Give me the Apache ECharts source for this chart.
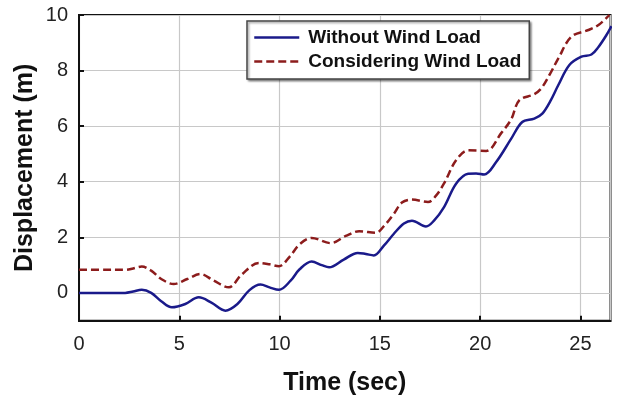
<!DOCTYPE html>
<html>
<head>
<meta charset="utf-8">
<script src="https://cdn.jsdelivr.net/npm/echarts@6/dist/echarts.min.js"></script>
<style>html,body{margin:0;padding:0;background:#fff;}#c{width:617px;height:396px;}</style>
</head>
<body>
<div id="c"></div>
<script>
var seriesNames = ['Without Wind Load', 'Considering Wind Load'];
var xTicks = [0, 5, 10, 15, 20, 25];
var yTicks = [0, 2, 4, 6, 8, 10];

var timeWithout = [0,1,2.3,2.7,3.13,3.6,4.1,4.63,5.3,5.97,6.6,7.3,7.9,8.5,9.05,9.5,9.97,10.55,11.0,11.6,12.1,12.47,13.2,13.9,14.3,14.7,15.2,15.7,16.2,16.6,17.3,17.7,18.2,18.8,19.4,19.8,20.2,20.8,21.55,22.1,22.7,23.1,23.5,23.9,24.45,25.05,25.55,25.9,26.3,26.55];
var dispWithout = [0,0,0,0.05,0.11,0.0,-0.3,-0.52,-0.4,-0.16,-0.35,-0.64,-0.4,0.1,0.3,0.2,0.11,0.44,0.85,1.13,1.0,0.92,1.2,1.44,1.4,1.35,1.7,2.13,2.5,2.6,2.39,2.6,3.09,3.93,4.29,4.3,4.26,4.71,5.55,6.15,6.27,6.45,6.9,7.48,8.2,8.5,8.58,8.85,9.28,9.6];

var timeWith = [0,1,2.3,2.7,3.13,3.6,4.1,4.72,5.4,6.05,6.7,7.47,8.1,8.97,9.5,9.97,10.5,11.0,11.6,12.55,13.3,13.97,14.8,15.2,15.7,16.1,16.6,17.4,17.8,18.2,18.8,19.4,20.3,21.05,21.55,21.95,22.7,23.05,23.5,23.9,24.55,25.4,25.9,26.45];
var dispWith = [0.83,0.83,0.83,0.88,0.95,0.8,0.5,0.32,0.5,0.68,0.45,0.2,0.65,1.08,1.03,0.96,1.3,1.75,1.98,1.79,2.05,2.22,2.16,2.4,2.85,3.25,3.36,3.27,3.5,3.94,4.77,5.13,5.11,5.75,6.25,6.93,7.15,7.36,7.9,8.44,9.22,9.46,9.64,10.0];

function pairs(xs, ys){ return xs.map(function(x,i){ return [x, ys[i]]; }); }

var chart = echarts.init(document.getElementById('c'), null, {renderer:'canvas'});
var font = 'Liberation Sans, Arial, sans-serif';
chart.setOption({
  animation: false,
  backgroundColor: '#fff',
  grid: { left: 79, top: 15, right: 6.5, bottom: 75.3, show: true, borderColor: '#111', borderWidth: 2, containLabel: false, outerBoundsMode: 'none' },
  legend: {
    left: 247, top: 21,
    orient: 'vertical',
    itemWidth: 45, itemHeight: 14, itemGap: 5,
    padding: [7, 8, 8, 6],
    backgroundColor: '#fff',
    borderColor: '#444', borderWidth: 1.5,
    shadowColor: 'rgba(0,0,0,0.4)', shadowBlur: 2, shadowOffsetX: 1.5, shadowOffsetY: 1.5,
    itemStyle: { opacity: 0, borderWidth: 0 },
    lineStyle: { width: 2.5 },
    textStyle: { fontFamily: font, fontWeight: 'bold', fontSize: 19, color: '#111', padding: [0, 0, 0, 4] },
    data: seriesNames
  },
  xAxis: {
    type: 'value', min: 0, max: 26.5, interval: 5,
    name: 'Time (sec)', nameLocation: 'middle', nameGap: 50, nameMoveOverlap: false,
    nameTextStyle: { fontFamily: font, fontWeight: 'bold', fontSize: 25, color: '#111' },
    axisLine: { show: true, onZero: false, lineStyle: { color: '#111', width: 2 } },
    axisTick: { show: true, inside: true, length: 5, lineStyle: { color: '#111', width: 2 } },
    axisLabel: { fontFamily: font, fontSize: 20, color: '#222', margin: 14, showMaxLabel: false,
      formatter: function(v){ return xTicks.indexOf(v) >= 0 ? String(v) : ''; } },
    splitLine: { show: true, lineStyle: { color: '#c8c8c8', width: 1.2 } }
  },
  yAxis: {
    type: 'value', min: -1, max: 10,
    name: 'Displacement (m)', nameLocation: 'middle', nameGap: 41, nameMoveOverlap: false,
    nameTextStyle: { fontFamily: font, fontWeight: 'bold', fontSize: 25, color: '#111' },
    axisLine: { show: true, onZero: false, lineStyle: { color: '#111', width: 2 } },
    axisTick: { show: true, inside: true, length: 5, lineStyle: { color: '#111', width: 2 } },
    axisLabel: { fontFamily: font, fontSize: 20, color: '#222', margin: 11, showMinLabel: false,
      formatter: function(v){ return yTicks.indexOf(v) >= 0 ? String(v) : ''; } },
    splitLine: { show: true, lineStyle: { color: '#c8c8c8', width: 1.2 } }
  },
  series: [
    { name: seriesNames[0], type: 'line', data: pairs(timeWithout, dispWithout), smooth: 0.35, symbol: 'none',
      lineStyle: { color: '#1a1a8a', width: 2.5 }, itemStyle: { color: '#1a1a8a' }, z: 3 },
    { name: seriesNames[1], type: 'line', data: pairs(timeWith, dispWith), smooth: 0.35, symbol: 'none',
      lineStyle: { color: '#8c1c1c', width: 2.5, type: [8, 4] }, itemStyle: { color: '#8c1c1c' }, z: 2 }
  ]
});
</script>
</body>
</html>
